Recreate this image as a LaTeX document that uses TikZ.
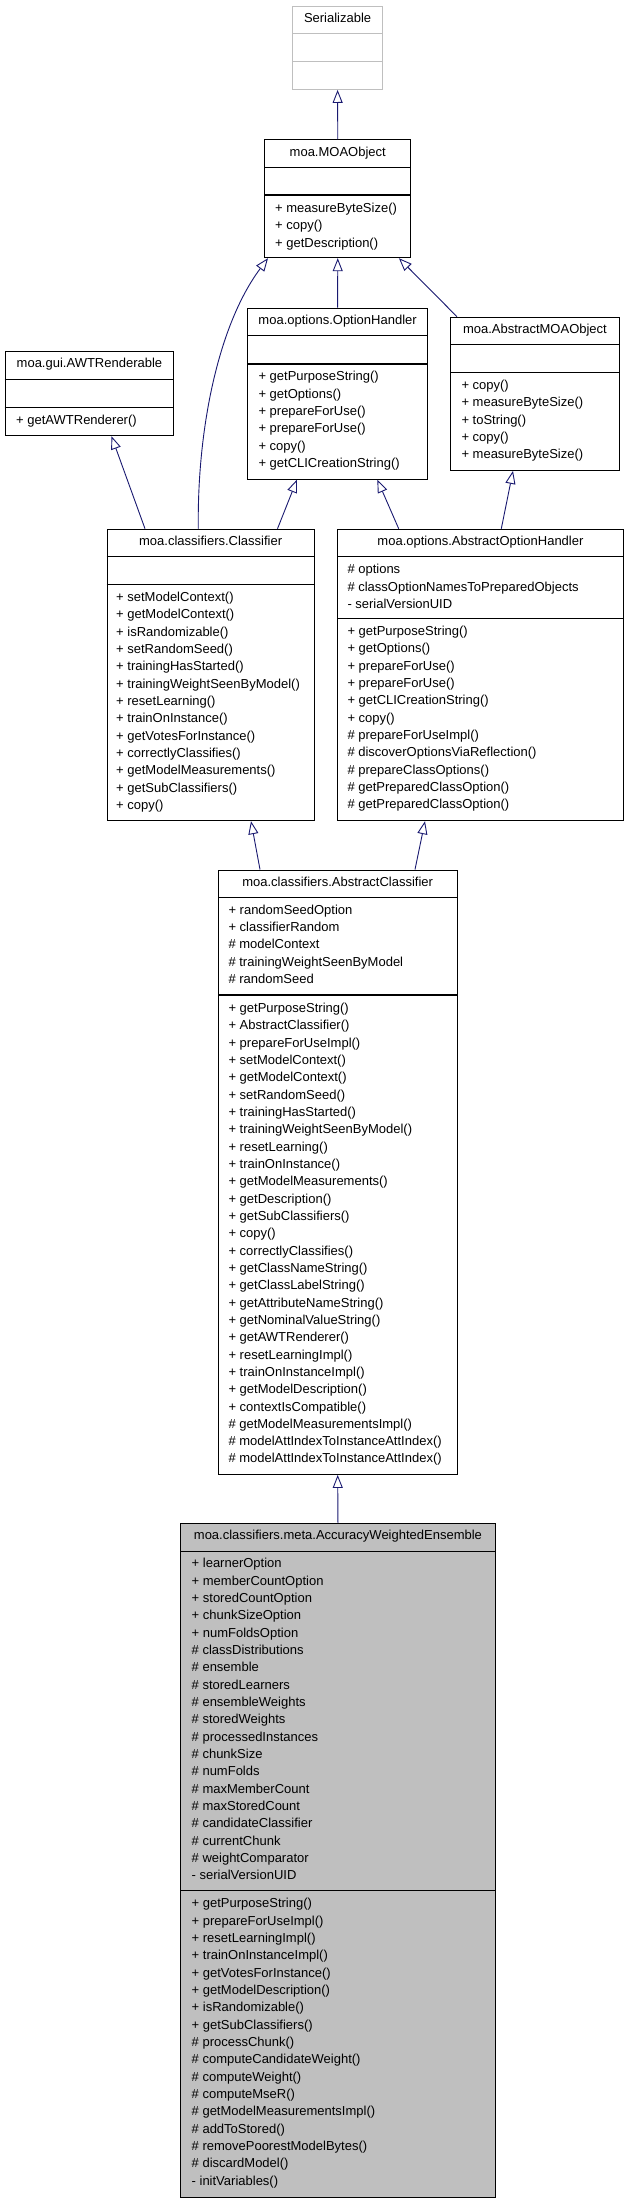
\documentclass[tikz,border=0pt]{standalone}
\usepackage{fontspec}
\setmainfont{Liberation Sans}
\usetikzlibrary{arrows.meta,calc}
\definecolor{edgeblue}{RGB}{25,25,112}
\definecolor{sergray}{RGB}{191,191,191}
\definecolor{awefill}{RGB}{191,191,191}
\newcommand{\classrows}[4]{%
  \foreach \t [count=\i] in {#4} {%
    \node[member] (#1-\i) at (#2,{#3+(\i-1)*17.33}) {\t};}}
\begin{document}
\begin{tikzpicture}[x=1pt,y=-1pt,
  cls/.style={draw=black, line width=0.9pt, inner sep=0pt, anchor=north west},
  title/.style={inner sep=0pt, font=\fontsize{13}{16}\selectfont, text height=9.5pt, text depth=2.7pt},
  member/.style={anchor=west, inner sep=0pt, font=\fontsize{13}{16}\selectfont, text height=9.5pt, text depth=2.7pt},
  divider/.style={draw=black, line width=1.1pt},
  inherit/.style={draw=edgeblue, line width=0.9pt, -{Triangle[open,length=13pt,width=10pt]}}
]
\useasboundingbox (0,0) rectangle (624,2203);

% Serializable
\node[cls, draw=sergray, minimum width=89.7pt, minimum height=83.3pt] (ser) at (292.3,5.7) {};
\node[title] (ser-t) at ([yshift=-13.5pt]ser.north) {Serializable};
\draw[divider, draw=sergray, line width=0.9pt] ([yshift=-27.6pt]ser.north west) -- ([yshift=-27.6pt]ser.north east);
\draw[divider, draw=sergray, line width=0.9pt] ([yshift=-56pt]ser.north west) -- ([yshift=-56pt]ser.north east);

% moa.MOAObject
\node[cls, minimum width=146pt, minimum height=118pt] (moa) at (264.3,139.3) {};
\node[title] (moa-t) at ([yshift=-13.5pt]moa.north) {moa.MOAObject};
\draw[divider] ([yshift=-28pt]moa.north west) -- ([yshift=-28pt]moa.north east);
\draw[divider] ([yshift=-55.7pt]moa.north west) -- ([yshift=-55.7pt]moa.north east);
\classrows{moa-m}{275}{209}{+ measureByteSize(), + copy(), + getDescription()}

% moa.gui.AWTRenderable
\node[cls, minimum width=168.6pt, minimum height=84.3pt] (awt) at (4.7,351) {};
\node[title] (awt-t) at ([yshift=-13.5pt]awt.north) {moa.gui.AWTRenderable};
\draw[divider] ([yshift=-28.3pt]awt.north west) -- ([yshift=-28.3pt]awt.north east);
\draw[divider] ([yshift=-56.3pt]awt.north west) -- ([yshift=-56.3pt]awt.north east);
\classrows{awt-m}{16}{421}{+ getAWTRenderer()}

% moa.options.OptionHandler
\node[cls, minimum width=180.3pt, minimum height=171pt] (oh) at (247,307.7) {};
\node[title] (oh-t) at ([yshift=-13.5pt]oh.north) {moa.options.OptionHandler};
\draw[divider] ([yshift=-28pt]oh.north west) -- ([yshift=-28pt]oh.north east);
\draw[divider] ([yshift=-56.3pt]oh.north west) -- ([yshift=-56.3pt]oh.north east);
\classrows{oh-m}{258.3}{377.5}{+ getPurposeString(), + getOptions(), + prepareForUse(), + prepareForUse(), + copy(), + getCLICreationString()}

% moa.AbstractMOAObject
\node[cls, minimum width=168.4pt, minimum height=153.3pt] (amo) at (450.3,316.7) {};
\node[title] (amo-t) at ([yshift=-13.5pt]amo.north) {moa.AbstractMOAObject};
\draw[divider] ([yshift=-28pt]amo.north west) -- ([yshift=-28pt]amo.north east);
\draw[divider] ([yshift=-56pt]amo.north west) -- ([yshift=-56pt]amo.north east);
\classrows{amo-m}{461.3}{386}{+ copy(), + measureByteSize(), + toString(), + copy(), + measureByteSize()}

% moa.classifiers.Classifier
\node[cls, minimum width=207pt, minimum height=291.6pt] (clf) at (106.7,528.7) {};
\node[title] (clf-t) at ([yshift=-13.5pt]clf.north) {moa.classifiers.Classifier};
\draw[divider] ([yshift=-27.5pt]clf.north west) -- ([yshift=-27.5pt]clf.north east);
\draw[divider] ([yshift=-55.6pt]clf.north west) -- ([yshift=-55.6pt]clf.north east);
\classrows{clf-m}{116}{598}{+ setModelContext(), + getModelContext(), + isRandomizable(), + setRandomSeed(), + trainingHasStarted(), + trainingWeightSeenByModel(), + resetLearning(), + trainOnInstance(), + getVotesForInstance(), + correctlyClassifies(), + getModelMeasurements(), + getSubClassifiers(), + copy()}

% moa.options.AbstractOptionHandler
\node[cls, minimum width=286pt, minimum height=291.6pt] (aoh) at (337,528.7) {};
\node[title] (aoh-t) at ([yshift=-13.5pt]aoh.north) {moa.options.AbstractOptionHandler};
\draw[divider] ([yshift=-27.6pt]aoh.north west) -- ([yshift=-27.6pt]aoh.north east);
\draw[divider] ([yshift=-89.8pt]aoh.north west) -- ([yshift=-89.8pt]aoh.north east);
\classrows{aoh-a}{347.3}{570.3}{\# options, \# classOptionNamesToPreparedObjects, - serialVersionUID}
\classrows{aoh-m}{347.3}{632}{+ getPurposeString(), + getOptions(), + prepareForUse(), + prepareForUse(), + getCLICreationString(), + copy(), \# prepareForUseImpl(), \# discoverOptionsViaReflection(), \# prepareClassOptions(), \# getPreparedClassOption(), \# getPreparedClassOption()}

% moa.classifiers.AbstractClassifier
\node[cls, minimum width=238.5pt, minimum height=604.5pt] (acl) at (218,869.5) {};
\node[title] (acl-t) at ([yshift=-13.5pt]acl.north) {moa.classifiers.AbstractClassifier};
\draw[divider] ([yshift=-28pt]acl.north west) -- ([yshift=-28pt]acl.north east);
\draw[divider] ([yshift=-125.5pt]acl.north west) -- ([yshift=-125.5pt]acl.north east);
\classrows{acl-a}{228.3}{910.7}{+ randomSeedOption, + classifierRandom, \# modelContext, \# trainingWeightSeenByModel, \# randomSeed}
\classrows{acl-m}{228.3}{1009}{+ getPurposeString(), + AbstractClassifier(), + prepareForUseImpl(), + setModelContext(), + getModelContext(), + setRandomSeed(), + trainingHasStarted(), + trainingWeightSeenByModel(), + resetLearning(), + trainOnInstance(), + getModelMeasurements(), + getDescription(), + getSubClassifiers(), + copy(), + correctlyClassifies(), + getClassNameString(), + getClassLabelString(), + getAttributeNameString(), + getNominalValueString(), + getAWTRenderer(), + resetLearningImpl(), + trainOnInstanceImpl(), + getModelDescription(), + contextIsCompatible(), \# getModelMeasurementsImpl(), \# modelAttIndexToInstanceAttIndex(), \# modelAttIndexToInstanceAttIndex()}

% moa.classifiers.meta.AccuracyWeightedEnsemble
\node[cls, fill=awefill, minimum width=315pt, minimum height=673.7pt] (awe) at (180,1523) {};
\node[title] (awe-t) at ([yshift=-13.5pt]awe.north) {moa.classifiers.meta.AccuracyWeightedEnsemble};
\draw[divider] ([yshift=-28.3pt]awe.north west) -- ([yshift=-28.3pt]awe.north east);
\draw[divider] ([yshift=-367.7pt]awe.north west) -- ([yshift=-367.7pt]awe.north east);
\classrows{awe-a}{191.5}{1564.5}{+ learnerOption, + memberCountOption, + storedCountOption, + chunkSizeOption, + numFoldsOption, \# classDistributions, \# ensemble, \# storedLearners, \# ensembleWeights, \# storedWeights, \# processedInstances, \# chunkSize, \# numFolds, \# maxMemberCount, \# maxStoredCount, \# candidateClassifier, \# currentChunk, \# weightComparator, - serialVersionUID}
\classrows{awe-m}{191.5}{1904.3}{+ getPurposeString(), + prepareForUseImpl(), + resetLearningImpl(), + trainOnInstanceImpl(), + getVotesForInstance(), + getModelDescription(), + isRandomizable(), + getSubClassifiers(), \# processChunk(), \# computeCandidateWeight(), \# computeWeight(), \# computeMseR(), \# getModelMeasurementsImpl(), \# addToStored(), \# removePoorestModelBytes(), \# discardModel(), - initVariables()}

% inheritance connectors
\draw[inherit] (moa.north) -- (ser.south);
\draw[inherit] ([xshift=91.6pt]clf.north west) .. controls (197,430) and (218,325) .. ([xshift=3.7pt]moa.south west);
\draw[inherit] (oh.north) -- (moa.south);
\draw[inherit] ([xshift=6.7pt]amo.north west) -- ([xshift=-12.3pt]moa.south east);
\draw[inherit] ([xshift=38.3pt]clf.north west) -- ([xshift=106.8pt]awt.south west);
\draw[inherit] ([xshift=170.8pt]clf.north west) -- ([xshift=50pt]oh.south west);
\draw[inherit] ([xshift=61.7pt]aoh.north west) -- ([xshift=130.3pt]oh.south west);
\draw[inherit] ([xshift=164.3pt]aoh.north west) -- ([xshift=62.7pt]amo.south west);
\draw[inherit] ([xshift=42pt]acl.north west) -- ([xshift=144.3pt]clf.south west);
\draw[inherit] ([xshift=197pt]acl.north west) -- ([xshift=88pt]aoh.south west);
\draw[inherit] (awe.north) -- (acl.south);
\end{tikzpicture}
\end{document}
